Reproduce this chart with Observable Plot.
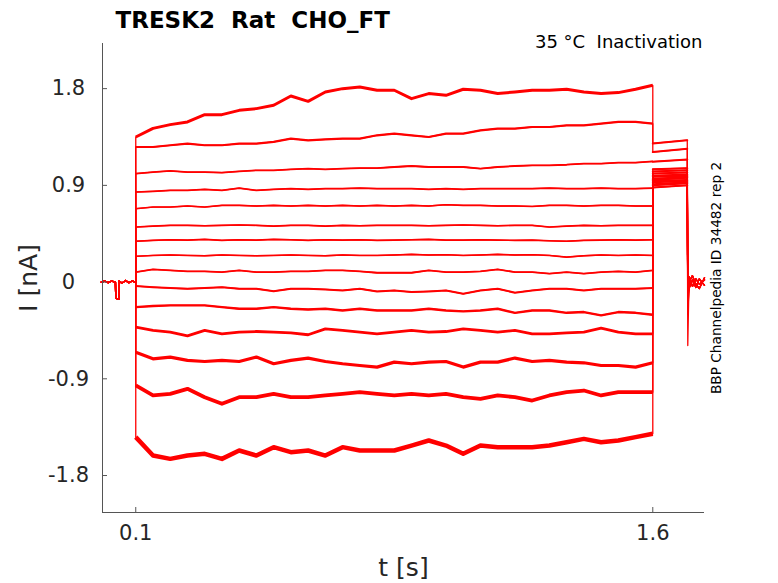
<!DOCTYPE html>
<html><head><meta charset="utf-8">
<script src="https://cdn.jsdelivr.net/npm/d3@7"></script>
<script src="https://cdn.jsdelivr.net/npm/@observablehq/plot@0.6"></script>
<style>
body{margin:0;background:#fff;}
svg text{white-space:pre;}
</style>
</head><body><div id="chart"></div>
<script>
// ---- texts and ticks ----
const titleText = "TRESK2  Rat  CHO_FT";
const conditionText = "35 °C  Inactivation";
const sideText = "BBP Channelpedia ID 34482 rep 2";
const xLabel = "t [s]";
const yLabel = "I [nA]";
const xTicks = [0.1, 1.6];
const yTicks = [-1.8, -0.9, 0, 0.9, 1.8];
const xDomain = [0.0035, 1.75];
const yDomain = [-2.144, 2.22];

// ---- holding before the pulse (s, nA) ----
const preTimes  = [0, 0.01, 0.02, 0.03, 0.041, 0.042, 0.051, 0.052, 0.06, 0.07, 0.08, 0.09, 0.1];
const preValues = [0.0, 0.01, -0.005, 0.01, 0.0, -0.15, -0.16, 0.01, -0.01, 0.015, -0.005, 0.01, 0.0];

// ---- conditioning pulse 0.1 .. 1.6 s ----
const pulseTimes = [0.1,0.15,0.2,0.25,0.3,0.35,0.4,0.45,0.5,0.55,0.6,0.65,0.7,0.75,0.8,0.85,0.9,0.95,1.0,1.05,1.1,1.15,1.2,1.25,1.3,1.35,1.4,1.45,1.5,1.55,1.6];
const pulse1  = [1.35,1.43,1.465,1.49,1.558,1.558,1.598,1.614,1.645,1.732,1.682,1.769,1.80,1.816,1.785,1.785,1.707,1.754,1.738,1.794,1.785,1.754,1.769,1.785,1.785,1.794,1.769,1.754,1.763,1.794,1.831];
const pulse2  = [1.257,1.257,1.273,1.288,1.273,1.273,1.288,1.288,1.304,1.335,1.319,1.328,1.335,1.335,1.366,1.381,1.366,1.35,1.381,1.381,1.412,1.428,1.428,1.443,1.443,1.459,1.459,1.474,1.49,1.49,1.474];
const pulse3  = [1.009,1.024,1.034,1.024,1.024,1.018,1.03,1.04,1.04,1.049,1.055,1.049,1.055,1.061,1.061,1.071,1.08,1.071,1.071,1.071,1.055,1.071,1.08,1.086,1.086,1.092,1.102,1.102,1.111,1.111,1.124];
const pulse4  = [0.838,0.844,0.853,0.853,0.863,0.853,0.875,0.853,0.863,0.869,0.863,0.869,0.869,0.875,0.869,0.869,0.869,0.863,0.869,0.863,0.869,0.869,0.869,0.869,0.875,0.869,0.869,0.875,0.869,0.869,0.875];
const pulse5  = [0.683,0.698,0.698,0.708,0.698,0.714,0.714,0.708,0.714,0.708,0.714,0.708,0.714,0.708,0.714,0.708,0.714,0.708,0.72,0.714,0.714,0.708,0.708,0.704,0.714,0.714,0.708,0.714,0.714,0.708,0.708];
const pulse6  = [0.512,0.521,0.528,0.528,0.524,0.528,0.531,0.528,0.521,0.528,0.528,0.521,0.528,0.524,0.528,0.528,0.528,0.524,0.528,0.531,0.528,0.524,0.528,0.528,0.512,0.521,0.528,0.524,0.528,0.528,0.528];
const pulse7  = [0.38,0.388,0.394,0.39,0.397,0.388,0.394,0.39,0.397,0.394,0.388,0.394,0.39,0.394,0.388,0.39,0.394,0.397,0.39,0.39,0.394,0.39,0.388,0.39,0.384,0.38,0.388,0.39,0.394,0.39,0.394];
const pulse8  = [0.24,0.248,0.252,0.248,0.245,0.252,0.248,0.245,0.248,0.252,0.248,0.245,0.252,0.248,0.248,0.252,0.258,0.252,0.255,0.248,0.252,0.258,0.252,0.255,0.248,0.232,0.245,0.252,0.248,0.252,0.248];
const pulse9  = [0.093,0.118,0.109,0.099,0.099,0.093,0.109,0.093,0.093,0.099,0.099,0.109,0.109,0.099,0.087,0.087,0.087,0.109,0.093,0.093,0.099,0.118,0.093,0.093,0.078,0.093,0.078,0.093,0.099,0.093,0.109];
const pulse10 = [-0.037,-0.047,-0.056,-0.062,-0.056,-0.047,-0.062,-0.062,-0.085,-0.062,-0.062,-0.068,-0.078,-0.062,-0.087,-0.078,-0.093,-0.087,-0.078,-0.109,-0.078,-0.062,-0.099,-0.078,-0.062,-0.062,-0.078,-0.062,-0.062,-0.062,-0.056];
const pulse11 = [-0.233,-0.223,-0.217,-0.217,-0.217,-0.233,-0.248,-0.248,-0.233,-0.248,-0.255,-0.248,-0.264,-0.248,-0.264,-0.264,-0.264,-0.248,-0.264,-0.273,-0.264,-0.248,-0.286,-0.264,-0.264,-0.286,-0.279,-0.31,-0.279,-0.286,-0.304];
const pulse12 = [-0.419,-0.45,-0.466,-0.50,-0.45,-0.481,-0.466,-0.46,-0.466,-0.472,-0.49,-0.435,-0.45,-0.466,-0.481,-0.466,-0.45,-0.466,-0.46,-0.435,-0.45,-0.466,-0.45,-0.481,-0.481,-0.472,-0.466,-0.429,-0.466,-0.481,-0.481];
const pulse13 = [-0.652,-0.714,-0.698,-0.729,-0.739,-0.729,-0.739,-0.698,-0.76,-0.729,-0.707,-0.739,-0.76,-0.776,-0.791,-0.745,-0.76,-0.745,-0.739,-0.791,-0.745,-0.745,-0.707,-0.739,-0.729,-0.745,-0.751,-0.776,-0.776,-0.791,-0.751];
const pulse14 = [-0.962,-1.055,-1.04,-0.993,-1.071,-1.133,-1.071,-1.071,-1.04,-1.071,-1.071,-1.055,-1.04,-1.024,-1.04,-1.055,-1.04,-1.055,-1.04,-1.071,-1.086,-1.055,-1.071,-1.102,-1.055,-1.024,-1.009,-1.055,-1.024,-1.024,-1.024];
const pulse15 = [-1.443,-1.614,-1.645,-1.614,-1.598,-1.645,-1.567,-1.614,-1.536,-1.583,-1.567,-1.614,-1.536,-1.567,-1.567,-1.567,-1.521,-1.474,-1.521,-1.598,-1.521,-1.536,-1.536,-1.536,-1.521,-1.49,-1.459,-1.49,-1.474,-1.443,-1.412];

// ---- test pulse 1.6 .. 1.7 s ----
const tailTimes = [1.6, 1.7];
const tailStart = [1.29,1.21,1.12,1.05,1.03,1.01,0.99,0.98,0.96,0.95,0.94,0.93,0.91,0.90,0.88];
const tailEnd   = [1.32,1.24,1.14,1.06,1.04,1.02,1.00,0.99,0.98,0.97,0.95,0.94,0.93,0.92,0.90];

// ---- return to holding after 1.7 s ----
const postTimes = [1.7015, 1.705, 1.715, 1.725, 1.735, 1.75];
const postSpike = [-0.3,-0.25,-0.2,-0.18,-0.15,-0.12,-0.1,-0.1,-0.08,-0.1,-0.12,-0.15,-0.2,-0.3,-0.59];
const postLevelsA = [0.05,-0.04,0.03,-0.02,0.02];
const postLevelsB = [-0.06,0.02,-0.05,0.03,-0.03];
const postLevelsC = [0.0,0.06,-0.02,-0.06,0.04];

// ---- build table ----
const pulses = [pulse1,pulse2,pulse3,pulse4,pulse5,pulse6,pulse7,pulse8,pulse9,pulse10,pulse11,pulse12,pulse13,pulse14,pulse15];
const postSets = [postLevelsA, postLevelsB, postLevelsC];
const rows = [];
pulses.forEach((vals, k) => {
  preTimes.forEach((t, j) => rows.push({trace: k, phase: "pre", t, i: preValues[j]}));
  pulseTimes.forEach((t, j) => rows.push({trace: k, phase: "pulse", t, i: vals[j]}));
  rows.push({trace: k, phase: "tail", t: tailTimes[0], i: tailStart[k]});
  rows.push({trace: k, phase: "tail", t: tailTimes[1], i: tailEnd[k]});
  rows.push({trace: k, phase: "post", t: postTimes[0], i: postSpike[k]});
  postSets[k % 3].forEach((v, j) => rows.push({trace: k, phase: "post", t: postTimes[j + 1], i: v}));
});

// style: apparent thickness of the noisy band of each trace
const bandWidths = [3,2.2,1.8,1.7,1.6,1.6,1.6,1.6,1.8,2,2.4,2.8,3.2,3.8,4.5];
const red = "#ff0000";
const axisColor = "#555555";
const textColor = "#262626";

const bandMarks = pulses.map((_, k) =>
  Plot.line(rows.filter(d => d.trace === k && d.phase === "pulse"),
    {x: "t", y: "i", stroke: red, strokeWidth: bandWidths[k], strokeLinejoin: "round", strokeLinecap: "butt"}));
const tailMarks = Plot.line(rows.filter(d => d.phase === "tail"),
    {x: "t", y: "i", z: "trace", stroke: red, strokeWidth: 2});

const chart = Plot.plot({
  width: 778,
  height: 583,
  marginLeft: 102,
  marginRight: 74,
  marginTop: 43,
  marginBottom: 71,
  style: {fontFamily: "DejaVu Sans", color: textColor, background: "#fff", overflow: "visible"},
  x: {domain: xDomain},
  y: {domain: yDomain},
  marks: [
    Plot.line(rows, {x: "t", y: "i", z: "trace", stroke: red, strokeWidth: 1.3}),
    ...bandMarks,
    tailMarks,
    Plot.ruleX([xDomain[0]], {stroke: axisColor, strokeWidth: 1}),
    Plot.ruleY([yDomain[0]], {stroke: axisColor, strokeWidth: 1}),
    Plot.axisX({ticks: xTicks, tickSize: -5, tickPadding: 18, fontSize: 21, label: null,
      stroke: axisColor, fill: textColor, tickFormat: d => String(d)}),
    Plot.axisY({ticks: yTicks, tickSize: -5, tickPadding: 39, fontSize: 21, label: null,
      textAnchor: "middle", stroke: axisColor, fill: textColor, tickFormat: d => String(d)}),
    Plot.text([titleText], {text: d => d, frameAnchor: "top-left", dx: 13, dy: -16,
      textAnchor: "start", lineAnchor: "bottom", fontSize: 23, fontWeight: "bold", fill: "#000"}),
    Plot.text([conditionText], {text: d => d, frameAnchor: "top-right", dx: -2, dy: 4,
      textAnchor: "end", lineAnchor: "bottom", fontSize: 18, fill: "#000"}),
    Plot.text([xLabel], {text: d => d, frameAnchor: "bottom", dy: 55, textAnchor: "middle",
      lineAnchor: "middle", fontSize: 25, fill: textColor}),
    Plot.text([yLabel], {text: d => d, frameAnchor: "left", dx: -74, rotate: -90,
      textAnchor: "middle", lineAnchor: "middle", fontSize: 25, fill: textColor}),
    Plot.text([sideText], {text: d => d, frameAnchor: "right", dx: 12, rotate: -90,
      textAnchor: "middle", lineAnchor: "middle", fontSize: 13.7, fill: "#000"})
  ]
});
document.getElementById("chart").appendChild(chart);
</script>
</body></html>
